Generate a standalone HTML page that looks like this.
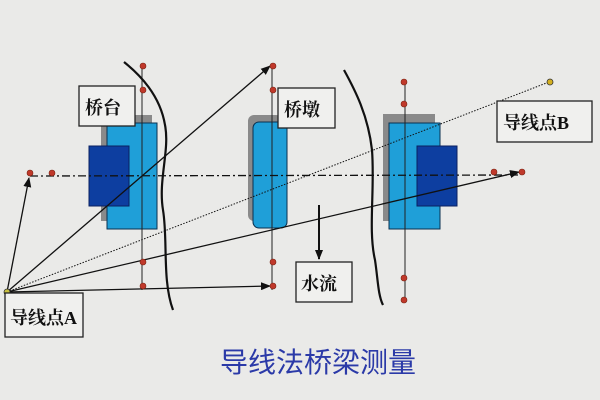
<!DOCTYPE html>
<html><head><meta charset="utf-8"><style>
body{margin:0;width:600px;height:400px;overflow:hidden;background:#e9e9e7;}
svg{display:block}
text{font-family:"Liberation Serif","Noto Serif CJK SC",serif;font-weight:bold;}
</style></head><body>
<svg width="600" height="400" viewBox="0 0 600 400" xmlns="http://www.w3.org/2000/svg">
<defs>
<marker id="ar" markerWidth="10" markerHeight="8" refX="9" refY="4" orient="auto" markerUnits="userSpaceOnUse"><path d="M0,0 L10,4 L0,8 z" fill="#111"/></marker>
</defs>
<rect width="600" height="400" fill="#eaeae8"/>
<rect x="101" y="115" width="51" height="106" fill="#8a8a8a"/>
<rect x="107" y="123" width="50" height="106" fill="#1f9fd8" stroke="#0a3050" stroke-width="1"/>
<rect x="89" y="146" width="40" height="60" fill="#0d3ea0" stroke="#0a2060" stroke-width="1"/>
<rect x="248" y="115" width="34" height="106" rx="6" fill="#8a8a8a"/>
<rect x="253" y="122" width="34" height="106" rx="6" fill="#1f9fd8" stroke="#0a3050" stroke-width="1"/>
<rect x="383" y="114" width="52" height="107" fill="#8a8a8a"/>
<rect x="389" y="123" width="51" height="106" fill="#1f9fd8" stroke="#0a3050" stroke-width="1"/>
<rect x="417" y="146" width="40" height="60" fill="#0d3ea0" stroke="#0a2060" stroke-width="1"/>
<g stroke="#222" stroke-width="1">
<line x1="142" y1="66" x2="142" y2="290"/>
<line x1="272" y1="66" x2="272" y2="290"/>
<line x1="405" y1="82" x2="405" y2="302"/>
</g>
<line x1="30" y1="176" x2="520" y2="175" stroke="#111" stroke-width="1.3" stroke-dasharray="8,3,2,3"/>
<path d="M124,62 C140,75 160,95 165,125 C170,150 158,180 163,210 C168,240 162,280 173,310" fill="none" stroke="#111" stroke-width="2.2"/>
<path d="M344,70 C355,90 368,115 372,150 C375,190 368,230 375,260 C378,280 378,295 383,305" fill="none" stroke="#111" stroke-width="2.2"/>
<g stroke="#111" stroke-width="1.3" fill="none">
<line x1="7" y1="292" x2="29" y2="178" marker-end="url(#ar)"/>
<line x1="7" y1="292" x2="270" y2="66" marker-end="url(#ar)"/>
<line x1="7" y1="292" x2="519" y2="172" marker-end="url(#ar)"/>
<line x1="7" y1="292" x2="270" y2="286" marker-end="url(#ar)"/>
<line x1="7" y1="292" x2="549" y2="82" stroke-dasharray="1.5,1.5" stroke-width="1"/>
<line x1="319" y1="205" x2="319" y2="259" stroke-width="2" marker-end="url(#ar)"/>
</g>
<g fill="#c0392b" stroke="#7a2010" stroke-width="0.6">
<circle cx="143" cy="66" r="3"/><circle cx="143" cy="90" r="3"/><circle cx="143" cy="262" r="3"/><circle cx="143" cy="286" r="3"/>
<circle cx="273" cy="66" r="3"/><circle cx="273" cy="90" r="3"/><circle cx="273" cy="262" r="3"/><circle cx="273" cy="286" r="3"/>
<circle cx="404" cy="82" r="3"/><circle cx="404" cy="104" r="3"/><circle cx="404" cy="278" r="3"/><circle cx="404" cy="300" r="3"/>
<circle cx="30" cy="173" r="3"/><circle cx="52" cy="173" r="3"/><circle cx="494" cy="172" r="3"/><circle cx="522" cy="172" r="3"/>
</g>
<circle cx="550" cy="82" r="3" fill="#d4b020" stroke="#333" stroke-width="0.8"/>
<circle cx="7" cy="292" r="3" fill="#c8c040" stroke="#333" stroke-width="0.8"/>
<g fill="#f0f0ee" stroke="#222" stroke-width="1.3">
<rect x="79" y="86" width="56" height="40"/>
<rect x="278" y="88" width="57" height="40"/>
<rect x="296" y="262" width="56" height="40"/>
<rect x="5" y="293" width="78" height="44"/>
<rect x="497" y="101" width="95" height="41"/>
</g>
<g font-size="18" fill="#111">
<text x="85" y="114">桥台</text>
<text x="284" y="116">桥墩</text>
<text x="301" y="290">水流</text>
<text x="10" y="324">导线点A</text>
<text x="503" y="129">导线点B</text>
</g>
<text x="318" y="372" text-anchor="middle" font-size="28" fill="#2b3aa8" style="font-family:'Liberation Sans','Noto Sans CJK SC',sans-serif;font-weight:normal">导线法桥梁测量</text>
</svg>
</body></html>
